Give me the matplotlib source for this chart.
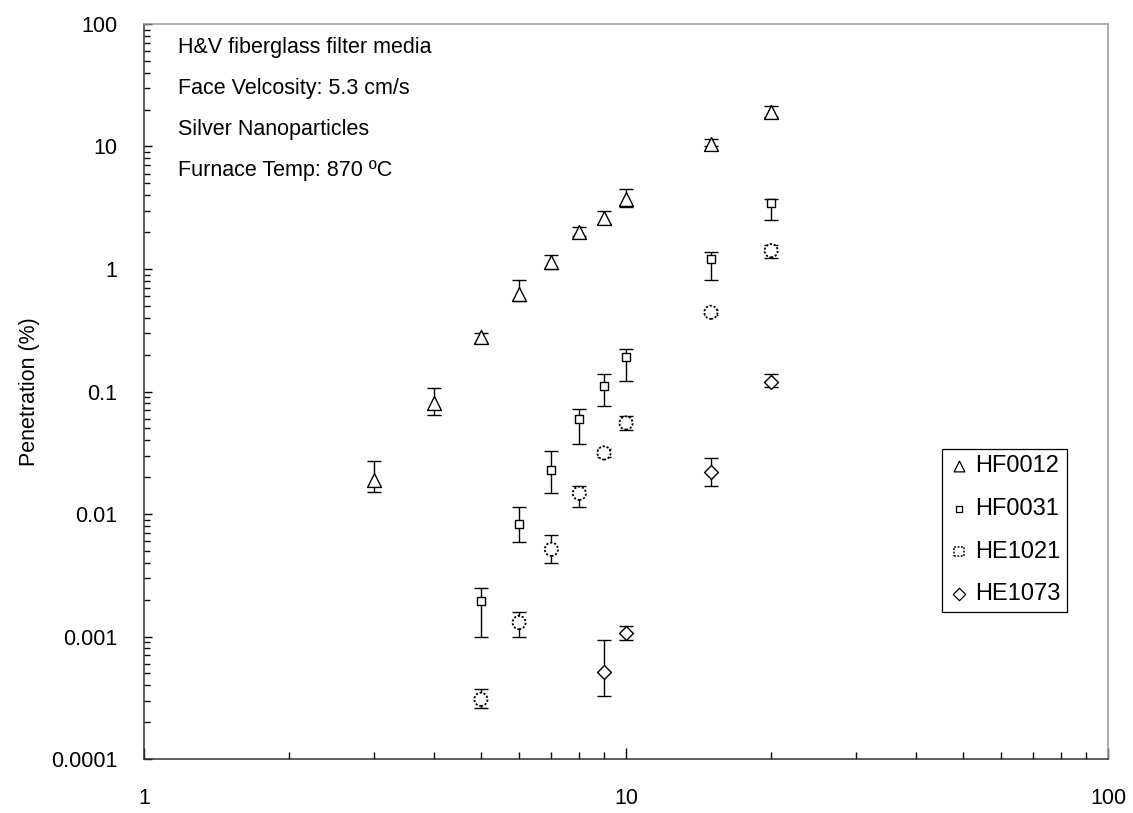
import matplotlib
matplotlib.use("Agg")
import matplotlib.pyplot as plt
from matplotlib.ticker import FixedLocator, FixedFormatter, LogLocator, NullFormatter
import numpy as np

plt.rcParams['font.family'] = ['Liberation Sans', 'DejaVu Sans']

# Penetration (%) vs particle size, with lower / upper bounds of each error bar
hf0012_x = [3, 4, 5, 6, 7, 8, 9, 10, 15, 20]
hf0012_y = [0.019, 0.080, 0.28, 0.625, 1.13, 2.02, 2.62, 3.71, 10.5, 19.1]
hf0012_lo = [0.015, 0.064, 0.25, 0.55, 1.0, 1.85, 2.35, 3.2, 10.0, 17.5]
hf0012_hi = [0.027, 0.106, 0.30, 0.82, 1.30, 2.2, 2.99, 4.5, 11.5, 21.5]

hf0031_x = [5, 6, 7, 8, 9, 10, 15, 20]
hf0031_y = [0.00195, 0.0083, 0.0229, 0.0597, 0.111, 0.19, 1.2, 3.44]
hf0031_lo = [0.001, 0.0059, 0.0148, 0.0375, 0.0766, 0.121, 0.81, 2.51]
hf0031_hi = [0.0025, 0.0114, 0.0327, 0.0716, 0.138, 0.221, 1.38, 3.7]

he1021_x = [5, 6, 7, 8, 9, 10, 15, 20]
he1021_y = [0.000307, 0.0013, 0.00515, 0.01475, 0.0315, 0.0553, 0.443, 1.41]
he1021_lo = [0.00026, 0.001, 0.004, 0.0114, 0.029, 0.0485, 0.42, 1.24]
he1021_hi = [0.00037, 0.00158, 0.0067, 0.0168, 0.034, 0.063, 0.46, 1.57]

he1073_x = [9, 10, 15, 20]
he1073_y = [0.000516, 0.00106, 0.0219, 0.12]
he1073_lo = [0.000329, 0.000936, 0.0169, 0.109]
he1073_hi = [0.000936, 0.00122, 0.0285, 0.139]

series_names = ["HF0012", "HF0031", "HE1021", "HE1073"]

x_ticks = [1, 10, 100]
x_tick_labels = ["1", "10", "100"]
y_ticks = [0.0001, 0.001, 0.01, 0.1, 1, 10, 100]
y_tick_labels = ["0.0001", "0.001", "0.01", "0.1", "1", "10", "100"]

notes = ["H&V fiberglass filter media",
         "Face Velcosity: 5.3 cm/s",
         "Silver Nanoparticles",
         "Furnace Temp: 870 \u00baC"]

FS = 15.5
LEG_FS = 17
DOTS = (0, (1.2, 1.0))

fig = plt.figure(figsize=(11.33, 8.13), dpi=100)
ax = fig.add_axes([0.1271, 0.0664, 0.8509, 0.9041])
ax.set_xscale("log")
ax.set_yscale("log")
ax.set_xlim(1, 100)
ax.set_ylim(0.0001, 100)


def bars(x, y, lo, hi):
    y = np.asarray(y)
    err = np.vstack([y - np.asarray(lo), np.asarray(hi) - y])
    ax.errorbar(x, y, yerr=err, fmt="none", ecolor="black",
                elinewidth=1.0, capsize=4.7, capthick=1.0, zorder=2)


bars(hf0012_x, hf0012_y, hf0012_lo, hf0012_hi)
bars(hf0031_x, hf0031_y, hf0031_lo, hf0031_hi)
bars(he1021_x, he1021_y, he1021_lo, he1021_hi)
bars(he1073_x, he1073_y, he1073_lo, he1073_hi)

ax.scatter(hf0012_x, hf0012_y, marker="^", s=100, facecolors="white",
           edgecolors="black", linewidths=1.0, zorder=3)
ax.scatter(hf0031_x, hf0031_y, marker="s", s=36, facecolors="white",
           edgecolors="black", linewidths=1.0, zorder=3)
ax.scatter(he1021_x, he1021_y, marker="o", s=90, facecolors="white",
           edgecolors="black", linewidths=1.3, linestyles=[DOTS], zorder=3)
ax.scatter(he1073_x, he1073_y, marker="D", s=50, facecolors="white",
           edgecolors="black", linewidths=1.0, zorder=3)

# legend keys
h1 = ax.scatter([], [], marker="^", s=60, facecolors="white", edgecolors="black", linewidths=0.9)
h2 = ax.scatter([], [], marker="s", s=22, facecolors="white", edgecolors="black", linewidths=0.9)
h3 = ax.scatter([], [], marker="s", s=50, facecolors="white", edgecolors="black",
                linewidths=1.1, linestyles=[DOTS])
h4 = ax.scatter([], [], marker="D", s=40, facecolors="white", edgecolors="black", linewidths=0.9)
leg = ax.legend([h1, h2, h3, h4], series_names, loc="upper left",
                bbox_to_anchor=(0.828, 0.4218), borderaxespad=0, fontsize=LEG_FS,
                frameon=True, fancybox=False, edgecolor="black", framealpha=1,
                handlelength=0.87, handletextpad=0.28, labelspacing=0.88,
                borderpad=0.26, scatterpoints=1)
leg.get_frame().set_linewidth(0.9)

# notes block, positioned in figure pixels measured from the top edge
for i, line in enumerate(notes):
    fig.text(178 / 1133, 1 - (47 + 41.3 * i) / 813, line, fontsize=FS,
             ha="left", va="center")

ax.xaxis.set_major_locator(FixedLocator(x_ticks))
ax.xaxis.set_major_formatter(FixedFormatter(x_tick_labels))
ax.xaxis.set_minor_locator(LogLocator(base=10, subs=np.arange(2, 10)))
ax.xaxis.set_minor_formatter(NullFormatter())
ax.yaxis.set_major_locator(FixedLocator(y_ticks))
ax.yaxis.set_major_formatter(FixedFormatter(y_tick_labels))
ax.yaxis.set_minor_locator(LogLocator(base=10, subs=np.arange(2, 10)))
ax.yaxis.set_minor_formatter(NullFormatter())

ax.tick_params(axis="x", which="major", direction="in", length=8, width=1.0,
               labelsize=FS, pad=21, top=False)
ax.tick_params(axis="x", which="minor", direction="in", length=5, width=1.0, top=False)
ax.tick_params(axis="y", which="major", direction="in", length=6, width=1.0,
               labelsize=FS, pad=19, right=False)
ax.tick_params(axis="y", which="minor", direction="in", length=4.5, width=1.0, right=False)

ax.set_ylabel("Penetration (%)", fontsize=FS, labelpad=8)

for side in ("left", "bottom"):
    ax.spines[side].set_color("#333333")
    ax.spines[side].set_linewidth(1.1)
for side in ("top", "right"):
    ax.spines[side].set_color("#999999")
    ax.spines[side].set_linewidth(1.1)

fig.savefig("out.png", dpi=100)
